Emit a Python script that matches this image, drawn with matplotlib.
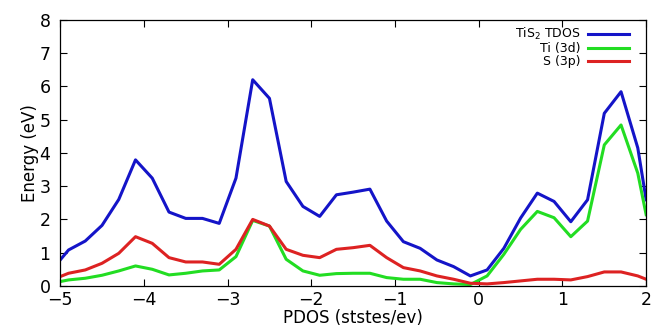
import matplotlib
matplotlib.use("Agg")
import matplotlib.pyplot as plt

x = [-5.0, -4.9, -4.7, -4.5, -4.3, -4.1, -3.9, -3.7, -3.5, -3.3, -3.1, -2.9, -2.7, -2.5,
     -2.3, -2.1, -1.9, -1.7, -1.5, -1.3, -1.1, -0.9, -0.7, -0.5, -0.3, -0.1, 0.1, 0.3,
     0.5, 0.7, 0.9, 1.1, 1.3, 1.5, 1.7, 1.9, 2.0]
tdos = [0.78, 1.08, 1.35, 1.82, 2.6, 3.79, 3.24, 2.22, 2.03, 2.03, 1.88, 3.24, 6.2, 5.64,
        3.14, 2.39, 2.09, 2.74, 2.82, 2.91, 1.95, 1.33, 1.13, 0.78, 0.58, 0.30, 0.48, 1.13,
        2.04, 2.79, 2.54, 1.93, 2.59, 5.19, 5.84, 4.15, 2.59]
ti3d = [0.13, 0.18, 0.23, 0.32, 0.45, 0.60, 0.50, 0.33, 0.38, 0.45, 0.48, 0.88, 1.97, 1.80,
        0.80, 0.45, 0.32, 0.37, 0.38, 0.38, 0.25, 0.20, 0.20, 0.10, 0.06, 0.04, 0.30, 0.95,
        1.70, 2.24, 2.05, 1.48, 1.95, 4.24, 4.84, 3.39, 2.14]
s3p = [0.28, 0.38, 0.48, 0.68, 0.98, 1.48, 1.28, 0.85, 0.72, 0.72, 0.65, 1.10, 2.00, 1.80,
       1.10, 0.92, 0.85, 1.10, 1.15, 1.22, 0.85, 0.55, 0.45, 0.30, 0.20, 0.08, 0.06, 0.10,
       0.15, 0.20, 0.20, 0.18, 0.28, 0.42, 0.42, 0.30, 0.20]

xticks = [-5, -4, -3, -2, -1, 0, 1, 2]
yticks = [0, 1, 2, 3, 4, 5, 6, 7, 8]

fig = plt.figure(figsize=(6.54, 3.26), dpi=100)
ax = fig.add_axes([0.092, 0.123, 0.896, 0.816])
lw = 2.2
ax.plot(x, tdos, color="#1414c8", lw=lw, label="TiS$_2$ TDOS")
ax.plot(x, ti3d, color="#22dd22", lw=lw, label="Ti (3d)")
ax.plot(x, s3p, color="#dd2222", lw=lw, label="S (3p)")

ax.set_xlim(-5, 2)
ax.set_ylim(0, 8)
ax.set_xticks(xticks)
ax.set_yticks(yticks)
ax.tick_params(direction="in", top=True, right=True, labeltop=False, labelright=False,
               labelsize=12.5, length=5, width=0.8)
ax.tick_params(axis="x", pad=4)
ax.tick_params(axis="y", pad=7)
for sp in ax.spines.values():
    sp.set_linewidth(0.9)
ax.set_xlabel("PDOS (ststes/ev)", fontsize=12, labelpad=0)
ax.set_ylabel("Energy (eV)", fontsize=12, labelpad=0)

leg = ax.legend(loc="upper right", markerfirst=False, frameon=False, fontsize=9,
                handlelength=3.3, handletextpad=0.6, labelspacing=0.0,
                borderaxespad=0.0, borderpad=0.4, bbox_to_anchor=(0.9795, 0.996))
for t in leg.get_texts():
    t.set_ha("right")

fig.savefig("out.png", dpi=100)
